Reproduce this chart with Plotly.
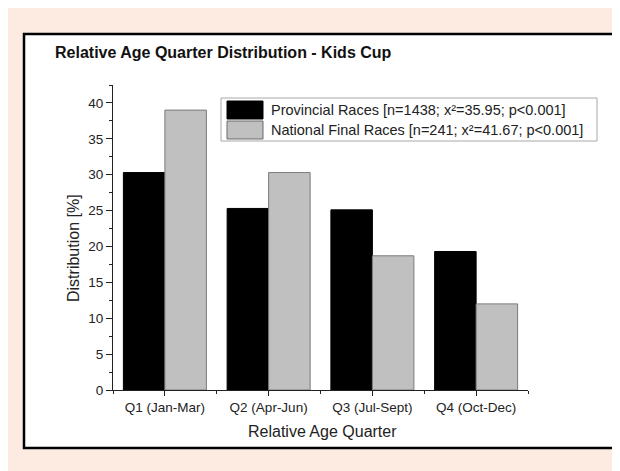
import plotly.graph_objects as go

categories = ["Q1 (Jan-Mar)", "Q2 (Apr-Jun)", "Q3 (Jul-Sept)", "Q4 (Oct-Dec)"]
provincial = [30.3, 25.3, 25.1, 19.3]
national = [39.0, 30.3, 18.7, 12.0]
series_names = [
    "Provincial Races [n=1438; x²=35.95; p<0.001]",
    "National Final Races [n=241; x²=41.67; p<0.001]",
]
title_text = "Relative Age Quarter Distribution - Kids Cup"
x_title = "Relative Age Quarter"
y_title = "Distribution [%]"
y_ticks = [0, 5, 10, 15, 20, 25, 30, 35, 40]

FONT = "Liberation Sans, Arial, sans-serif"
OFF = 8  # page body margin
W, H = 620 - OFF, 471 - OFF
# plot area in screenshot pixel coordinates
L, R, T, B = 113, 528, 85, 390
PEACH = "#fdebe1"


def px_x(p):
    return (p - L) / (R - L)


def px_y(p):
    return (B - p) / (B - T)


xpos = list(range(len(categories)))

fig = go.Figure()
fig.add_trace(go.Bar(
    x=xpos, y=provincial, name=series_names[0],
    marker=dict(color="#000000", line=dict(color="#000000", width=1)),
    showlegend=False,
))
fig.add_trace(go.Bar(
    x=xpos, y=national, name=series_names[1],
    marker=dict(color="#c0c0c0", line=dict(color="#7a7a7a", width=1)),
    showlegend=False,
))

shapes = []
# outer white box with black border
shapes.append(dict(type="rect", xref="paper", yref="paper",
                   x0=px_x(24), x1=px_x(614), y0=px_y(448), y1=px_y(34),
                   fillcolor="white", line=dict(color="black", width=2.5), layer="below"))
# legend box
shapes.append(dict(type="rect", xref="paper", yref="paper",
                   x0=px_x(221), x1=px_x(597), y0=px_y(141), y1=px_y(98),
                   fillcolor="white", line=dict(color="#a8a8a8", width=1), layer="above"))
# legend swatches
shapes.append(dict(type="rect", xref="paper", yref="paper",
                   x0=px_x(227), x1=px_x(263), y0=px_y(119), y1=px_y(101),
                   fillcolor="#000000", line=dict(color="#000000", width=1), layer="above"))
shapes.append(dict(type="rect", xref="paper", yref="paper",
                   x0=px_x(227), x1=px_x(263), y0=px_y(139), y1=px_y(121),
                   fillcolor="#c0c0c0", line=dict(color="#6a6a6a", width=1), layer="above"))

annotations = [
    dict(text=title_text, xref="paper", yref="paper", x=px_x(53), y=px_y(52),
         xanchor="left", yanchor="middle", showarrow=False,
         font=dict(family=FONT, size=16, color="#111111", weight="bold")),
    dict(text=series_names[0], xref="paper", yref="paper", x=px_x(269), y=px_y(110),
         xanchor="left", yanchor="middle", showarrow=False,
         font=dict(family=FONT, size=14.5, color="#222222")),
    dict(text=series_names[1], xref="paper", yref="paper", x=px_x(269), y=px_y(130),
         xanchor="left", yanchor="middle", showarrow=False,
         font=dict(family=FONT, size=14.5, color="#222222")),
    dict(text=x_title, xref="paper", yref="paper", x=px_x(322), y=px_y(431),
         xanchor="center", yanchor="middle", showarrow=False,
         font=dict(family=FONT, size=16, color="#222222")),
    dict(text=y_title, xref="paper", yref="paper", x=px_x(73), y=px_y(248),
         xanchor="center", yanchor="middle", showarrow=False, textangle=-90,
         font=dict(family=FONT, size=16, color="#222222")),
]

fig.update_layout(
    width=W, height=H,
    margin=dict(l=L - OFF, r=W - (R - OFF), t=T - OFF, b=H - (B - OFF), pad=0),
    paper_bgcolor=PEACH,
    plot_bgcolor="rgba(0,0,0,0)",
    barmode="group", bargap=0.2, bargroupgap=0,
    font=dict(family=FONT, size=13.5, color="#222222"),
    shapes=shapes, annotations=annotations,
    showlegend=False,
    xaxis=dict(
        range=[-0.5, len(categories) - 0.5],
        tickvals=xpos, ticktext=categories,
        showline=True, linecolor="#222222", linewidth=1,
        ticks="outside", ticklen=5, tickcolor="#222222", tickwidth=1,
        minor=dict(tick0=0.5, dtick=1, ticks="outside", ticklen=3, tickcolor="#222222"),
        showgrid=False, zeroline=False,
        tickfont=dict(family=FONT, size=13.5, color="#222222"),
    ),
    yaxis=dict(
        range=[0, 42.5],
        tickvals=y_ticks,
        showline=True, linecolor="#222222", linewidth=1,
        ticks="outside", ticklen=6, tickcolor="#222222", tickwidth=1,
        minor=dict(tick0=0, dtick=2.5, ticks="outside", ticklen=3, tickcolor="#222222"),
        showgrid=False, zeroline=False,
        tickfont=dict(family=FONT, size=13.5, color="#222222"),
    ),
)

fig.write_html("out.html")
